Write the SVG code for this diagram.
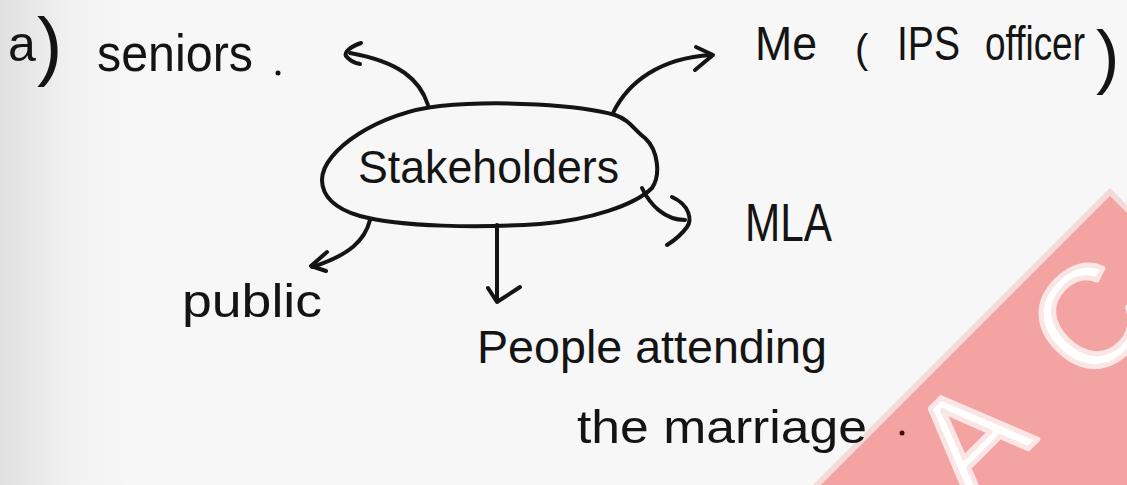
<svg xmlns="http://www.w3.org/2000/svg" width="1127" height="485" viewBox="0 0 1127 485">
  <defs>
    <style>
      .ink { fill: none; stroke: #141414; stroke-width: 4; stroke-linecap: round; stroke-linejoin: round; }
      .hw { font-family: "Liberation Sans", Arial, sans-serif; fill: #141414; }
      .wm { font-family: "Liberation Sans", Arial, sans-serif; fill: #ffffff; stroke: #fbe6e6; stroke-width: 5; stroke-linejoin: round; }
    </style>
    <linearGradient id="paper" x1="0" y1="0" x2="1" y2="0">
      <stop offset="0" stop-color="#e0e0e0"/>
      <stop offset="0.06" stop-color="#f1f1f1"/>
      <stop offset="0.12" stop-color="#f7f7f7"/>
      <stop offset="1" stop-color="#f7f7f7"/>
    </linearGradient>
    <clipPath id="tri">
      <polygon points="821,485 1110,196 1127,213 1127,485"/>
    </clipPath>
  </defs>

  <rect x="0" y="0" width="1127" height="485" fill="url(#paper)"/>

  <!-- watermark -->
  <g id="watermark">
    <polygon points="813,485 1110,188 1127,205 1127,485" fill="#f4d9d9"/>
    <polygon points="821,485 1110,196 1127,213 1127,485" fill="#f4a3a3"/>
    <g clip-path="url(#tri)">
      <g transform="translate(971,506) rotate(-45)">
        <text class="wm" x="0" y="0" font-size="142">A</text>
        <text class="wm" x="165" y="0" font-size="142">C</text>
      </g>
    </g>
  </g>

  <!-- nodes -->
  <g id="node-label-a">
    <text class="hw" x="8" y="61" font-size="50">a<tspan x="37" y="71" font-size="76">)</tspan></text>
  </g>

  <g id="node-seniors">
    <text class="hw" x="97" y="71" font-size="52" textLength="156" lengthAdjust="spacingAndGlyphs">seniors</text>
    <circle cx="278" cy="73" r="2.5" fill="#141414"/>
  </g>

  <g id="node-me">
    <text class="hw" y="60" font-size="49"><tspan x="755" textLength="62" lengthAdjust="spacingAndGlyphs">Me</tspan> <tspan x="855" y="63" font-size="40">(</tspan><tspan x="897" y="60" textLength="63" lengthAdjust="spacingAndGlyphs">IPS</tspan> <tspan x="985" textLength="100" lengthAdjust="spacingAndGlyphs">officer</tspan><tspan x="1096" y="80" font-size="70">)</tspan></text>
  </g>

  <g id="node-stakeholders">
    <path class="ink" d="M322,180 C322,150 380,112 440,106 C500,100 580,105 615,115 C630,120 634,130 645,138 C658,150 661,175 652,188 C635,205 590,220 540,224 C480,228 400,227 360,216 C335,209 322,196 322,180 Z"/>
    <text class="hw" x="358" y="183" font-size="46" textLength="261" lengthAdjust="spacingAndGlyphs">Stakeholders</text>
  </g>

  <g id="node-mla">
    <text class="hw" x="745" y="241" font-size="54" textLength="87" lengthAdjust="spacingAndGlyphs">MLA</text>
  </g>

  <g id="node-public">
    <text class="hw" x="182" y="317" font-size="46" textLength="140" lengthAdjust="spacingAndGlyphs">public</text>
  </g>

  <g id="node-people">
    <text class="hw" x="477" y="363" font-size="47" textLength="350" lengthAdjust="spacingAndGlyphs">People attending</text>
    <text class="hw" x="577" y="443" font-size="47" textLength="290" lengthAdjust="spacingAndGlyphs">the marriage</text>
    <circle cx="902" cy="433" r="2.5" fill="#3a0c0c"/>
  </g>

  <!-- connectors -->
  <g id="connectors">
    <path class="ink" d="M428,105 C420,80 400,62 350,53"/>
    <path class="ink" d="M361,43 C350,47 344,52 346,56 C349,60 355,63 360,64"/>

    <path class="ink" d="M613,113 C628,82 660,58 711,55"/>
    <path class="ink" d="M696,47 L713,55 L695,70"/>

    <path class="ink" d="M642,188 C650,205 665,220 685,220"/>
    <path class="ink" d="M672,197 C690,205 692,220 687,227 C682,234 675,240 667,245"/>

    <path class="ink" d="M370,220 C365,240 350,255 312,267"/>
    <path class="ink" d="M327,252 L311,266 L326,271"/>

    <path class="ink" d="M497,225 L497,300"/>
    <path class="ink" d="M488,288 L497,302 L520,287"/>
  </g>
</svg>
